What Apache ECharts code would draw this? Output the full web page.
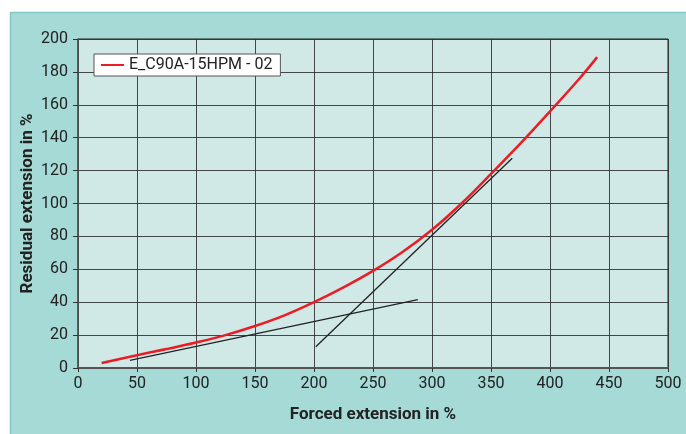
<!DOCTYPE html>
<html>
<head>
<meta charset="utf-8">
<script src="https://cdn.jsdelivr.net/npm/echarts@6/dist/echarts.min.js"></script>
<style>
html,body{margin:0;padding:0;background:#fff;}
#c{width:686px;height:434px;}
</style>
</head>
<body>
<div id="c"></div>
<script>
// Data
const xTicks = [0, 50, 100, 150, 200, 250, 300, 350, 400, 450, 500];
const yTicks = [0, 20, 40, 60, 80, 100, 120, 140, 160, 180, 200];
const seriesName = 'E_C90A-15HPM - 02';
const curveX = [20, 50, 75, 100, 125, 150, 175, 200, 225, 250, 275, 300, 325, 350, 375, 400, 425, 440];
const curveY = [3, 7.8, 11.5, 15.5, 20, 25.5, 32, 40, 49, 59, 70.5, 84, 100, 118, 136.5, 156, 176, 189];
const tangent1X = [44, 288];
const tangent1Y = [4.7, 41.5];
const tangent2X = [201.5, 368];
const tangent2Y = [12.9, 127.5];

const zip = (xs, ys) => xs.map((x, i) => [x, ys[i]]);

const chart = echarts.init(document.getElementById('c'));
const font = 'Roboto, "Open Sans", sans-serif';
chart.setOption({
  backgroundColor: '#ffffff',
  animation: false,
  graphic: [{
    type: 'rect',
    z: -10,
    shape: { x: 10.5, y: 12.5, width: 690, height: 440 },
    style: { fill: '#a5dad6', stroke: '#7fcac5', lineWidth: 1.5 }
  }],
  grid: {
    left: 78, right: 18, top: 39, bottom: 66,
    show: true,
    backgroundColor: '#d0e9e7',
    borderColor: '#222',
    borderWidth: 1
  },
  legend: {
    data: [{ name: seriesName, icon: 'rect' }],
    left: 94, top: 54,
    backgroundColor: '#ffffff',
    borderColor: '#555',
    borderWidth: 1,
    borderRadius: 0,
    padding: [3, 8, 3, 7],
    itemWidth: 23,
    itemHeight: 2,
    textStyle: { fontFamily: font, fontSize: 16, color: '#222' }
  },
  xAxis: {
    type: 'value',
    min: xTicks[0], max: xTicks[xTicks.length - 1], interval: 50,
    name: 'Forced extension in %',
    nameLocation: 'middle',
    nameGap: 38,
    nameMoveOverlap: false,
    nameTextStyle: { fontFamily: font, fontSize: 17, fontWeight: 'bold', color: '#222' },
    axisLine: { show: true, lineStyle: { color: '#555', width: 2 } },
    axisTick: { show: true, length: 4, lineStyle: { color: '#333' } },
    axisLabel: { fontFamily: font, fontSize: 16, color: '#222', margin: 8 },
    splitLine: { show: true, lineStyle: { color: '#2a2a2a', width: 1, opacity: 0.85 } }
  },
  yAxis: {
    type: 'value',
    min: yTicks[0], max: yTicks[yTicks.length - 1], interval: 20,
    name: 'Residual extension in %',
    nameLocation: 'middle',
    nameGap: 42,
    nameMoveOverlap: false,
    nameTextStyle: { fontFamily: font, fontSize: 17, fontWeight: 'bold', color: '#222' },
    axisLine: { show: true, lineStyle: { color: '#555', width: 1.5 } },
    axisTick: { show: true, length: 5, lineStyle: { color: '#333' } },
    axisLabel: { fontFamily: font, fontSize: 16, color: '#222', margin: 10 },
    splitLine: { show: true, lineStyle: { color: '#2a2a2a', width: 1, opacity: 0.85 } }
  },
  series: [
    {
      name: seriesName,
      type: 'line',
      smooth: 0.4,
      symbol: 'none',
      data: zip(curveX, curveY),
      lineStyle: { color: '#ec1c24', width: 2.5 },
      itemStyle: { color: '#ec1c24' },
      z: 5
    },
    {
      name: 'tangent1',
      type: 'line',
      symbol: 'none',
      data: zip(tangent1X, tangent1Y),
      lineStyle: { color: '#222', width: 1.3 },
      z: 4
    },
    {
      name: 'tangent2',
      type: 'line',
      symbol: 'none',
      data: zip(tangent2X, tangent2Y),
      lineStyle: { color: '#222', width: 1.3 },
      z: 4
    }
  ]
});
</script>
</body>
</html>
